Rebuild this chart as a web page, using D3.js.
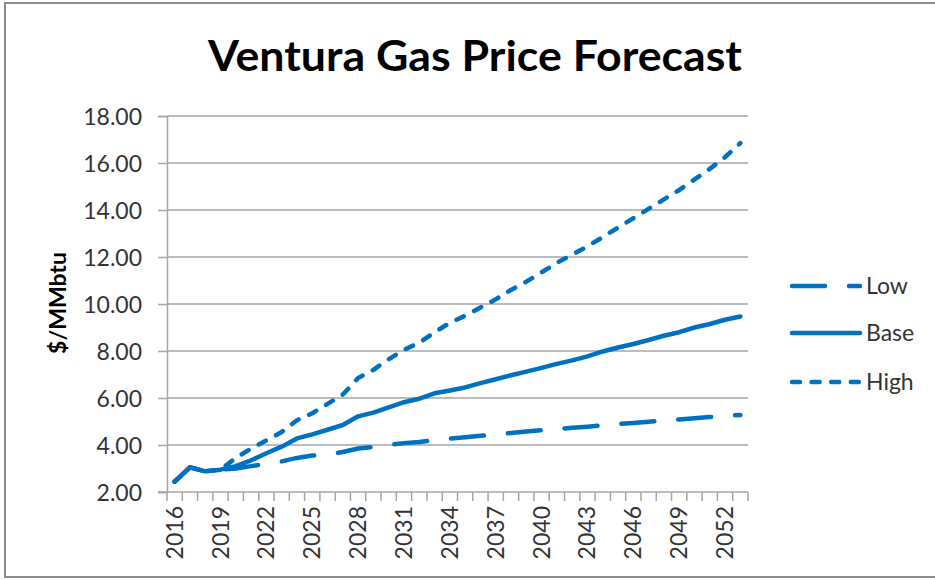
<!DOCTYPE html>
<html>
<head>
<meta charset="utf-8">
<script src="https://cdn.jsdelivr.net/npm/d3@7"></script>
<style>
  html, body { margin: 0; padding: 0; background: #fff; }
  svg { display: block; }
  text { font-family: Lato, "Open Sans", sans-serif; }
</style>
</head>
<body>
<svg id="chart" width="935" height="580"></svg>
<script>
const title = "Ventura Gas Price Forecast";
const yAxisTitle = "$/MMbtu";
const years = d3.range(2016, 2054);
const yearLabels = [2016, 2019, 2022, 2025, 2028, 2031, 2034, 2037, 2040, 2043, 2046, 2049, 2052];
const yTicks = [2, 4, 6, 8, 10, 12, 14, 16, 18];
const seriesNames = ["Low", "Base", "High"];

const lowValues = [2.44, 3.05, 2.88, 2.95, 3.0, 3.1, 3.2, 3.3, 3.45, 3.55, 3.6, 3.7, 3.85, 3.92, 4.0, 4.08, 4.13, 4.2, 4.27, 4.33, 4.39, 4.45, 4.51, 4.57, 4.63, 4.68, 4.73, 4.78, 4.84, 4.89, 4.94, 4.99, 5.04, 5.09, 5.14, 5.19, 5.23, 5.28];
const baseValues = [2.44, 3.05, 2.88, 2.95, 3.1, 3.35, 3.65, 3.93, 4.28, 4.45, 4.65, 4.85, 5.22, 5.38, 5.6, 5.82, 5.97, 6.2, 6.32, 6.45, 6.63, 6.8, 6.97, 7.12, 7.28, 7.45, 7.6, 7.77, 7.98, 8.15, 8.3, 8.47, 8.65, 8.8, 9.0, 9.15, 9.33, 9.47];
const highValues = [2.44, 3.05, 2.88, 2.95, 3.45, 3.85, 4.2, 4.55, 5.05, 5.35, 5.75, 6.15, 6.85, 7.2, 7.65, 8.05, 8.35, 8.8, 9.2, 9.5, 9.85, 10.2, 10.6, 10.95, 11.35, 11.75, 12.1, 12.45, 12.85, 13.25, 13.65, 14.05, 14.45, 14.85, 15.3, 15.75, 16.25, 16.85];

const seriesValues = { Low: lowValues, Base: baseValues, High: highValues };
const dashes = { Low: "33,24", Base: null, High: "8,11.6" };
const lineColor = "#0070C0";
const gridColor = "#a6a6a6";
const textColor = "#333333";

const svg = d3.select("#chart");

// outer frame
svg.append("rect")
  .attr("x", 5).attr("y", 3).attr("width", 945).attr("height", 574)
  .attr("fill", "none").attr("stroke", "#8c8c8c").attr("stroke-width", 2);

const plot = { left: 167, right: 748, top: 116, bottom: 492 };

const x = d3.scaleBand().domain(years).range([plot.left, plot.right]).padding(0);
const y = d3.scaleLinear().domain([2, 18]).range([plot.bottom, plot.top]);

// title
svg.append("text")
  .attr("x", 475).attr("y", 71)
  .attr("text-anchor", "middle")
  .attr("font-size", 42).attr("font-weight", 700)
  .attr("fill", "#000")
  .attr("textLength", 534).attr("lengthAdjust", "spacingAndGlyphs")
  .text(title);

// gridlines
svg.append("g").selectAll("line")
  .data(yTicks.filter(d => d > 2))
  .join("line")
  .attr("x1", plot.left).attr("x2", plot.right)
  .attr("y1", d => y(d)).attr("y2", d => y(d))
  .attr("stroke", gridColor).attr("stroke-width", 1.5);

// y axis
const yAxis = d3.axisLeft(y).tickValues(yTicks).tickFormat(d3.format(".2f")).tickSize(9).tickPadding(16);
const gy = svg.append("g").attr("transform", `translate(${plot.left},0)`).call(yAxis);
gy.select(".domain").attr("stroke", gridColor).attr("stroke-width", 1.5);
gy.selectAll(".tick line").attr("stroke", gridColor).attr("stroke-width", 1.5);
gy.selectAll(".tick text")
  .attr("font-size", 23).attr("fill", textColor)
  .attr("font-family", "Lato, sans-serif")
  .attr("dy", "0.35em");

// x axis
const bw = x.bandwidth();
const boundaries = d3.range(years.length + 1).map(i => plot.left + i * bw);
const gx = svg.append("g");
gx.append("line")
  .attr("x1", plot.left - 9).attr("x2", plot.right)
  .attr("y1", plot.bottom).attr("y2", plot.bottom)
  .attr("stroke", gridColor).attr("stroke-width", 1.5);
gx.selectAll("line.tk").data(boundaries).join("line")
  .attr("class", "tk")
  .attr("x1", d => d).attr("x2", d => d)
  .attr("y1", plot.bottom).attr("y2", plot.bottom + 9)
  .attr("stroke", gridColor).attr("stroke-width", 1.5);
gx.selectAll("text").data(yearLabels).join("text")
  .attr("transform", d => `translate(${x(d) + bw / 2 + 8},${plot.bottom + 14}) rotate(-90)`)
  .attr("text-anchor", "end")
  .attr("font-size", 23).attr("fill", textColor)
  .text(d => d);

// y axis title
svg.append("text")
  .attr("transform", "translate(66,303) rotate(-90)")
  .attr("text-anchor", "middle")
  .attr("font-size", 23).attr("font-weight", 700).attr("fill", "#000")
  .text(yAxisTitle);

// lines
const line = d3.line()
  .x((d, i) => x(years[i]) + bw / 2)
  .y(d => y(d));

seriesNames.forEach(name => {
  svg.append("path")
    .datum(seriesValues[name])
    .attr("d", line)
    .attr("fill", "none")
    .attr("stroke", lineColor)
    .attr("stroke-width", 4.5)
    .attr("stroke-linecap", "round")
    .attr("stroke-linejoin", "round")
    .attr("stroke-dasharray", dashes[name]);
});

// legend
const legendY = { Low: 286, Base: 333, High: 382 };
const lg = svg.append("g");
seriesNames.forEach(name => {
  lg.append("line")
    .attr("x1", 792).attr("x2", 860)
    .attr("y1", legendY[name]).attr("y2", legendY[name])
    .attr("stroke", lineColor).attr("stroke-width", 4.5)
    .attr("stroke-linecap", "round")
    .attr("stroke-dasharray", dashes[name]);
  lg.append("text")
    .attr("x", 866).attr("y", legendY[name])
    .attr("dy", "0.35em")
    .attr("font-size", 23).attr("fill", textColor)
    .text(name);
});
</script>
</body>
</html>
